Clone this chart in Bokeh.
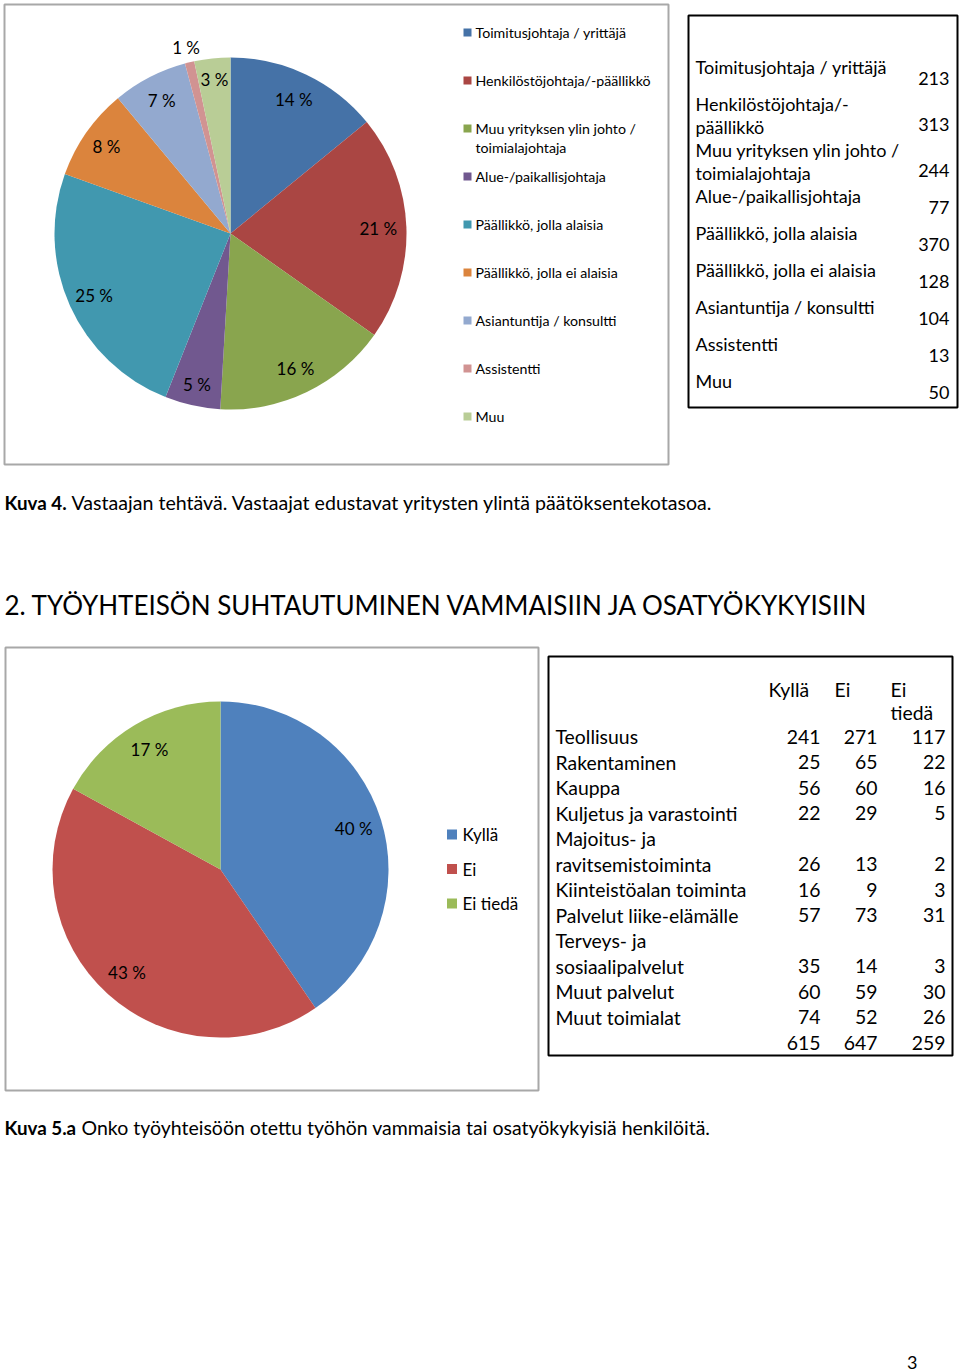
import math
from bokeh.plotting import figure
from bokeh.models import Range1d
from bokeh.embed import file_html
from bokeh.resources import INLINE
from bokeh.core.properties import value

# ---------------- data ----------------
# Figure 4: respondent role
roles_legend = ["Toimitusjohtaja / yrittäjä", "Henkilöstöjohtaja/-päällikkö",
                "Muu yrityksen ylin johto /\ntoimialajohtaja", "Alue-/paikallisjohtaja",
                "Päällikkö, jolla alaisia", "Päällikkö, jolla ei alaisia",
                "Asiantuntija / konsultti", "Assistentti", "Muu"]
roles_table = ["Toimitusjohtaja / yrittäjä", "Henkilöstöjohtaja/-\npäällikkö",
               "Muu yrityksen ylin johto /\ntoimialajohtaja", "Alue-/paikallisjohtaja",
               "Päällikkö, jolla alaisia", "Päällikkö, jolla ei alaisia",
               "Asiantuntija / konsultti", "Assistentti", "Muu"]
role_counts = [213, 313, 244, 77, 370, 128, 104, 13, 50]
role_pct_labels = ["14 %", "21 %", "16 %", "5 %", "25 %", "8 %", "7 %", "1 %", "3 %"]
role_colors = ["#4572A7", "#AA4643", "#89A54E", "#71588F", "#4198AF",
               "#DB843D", "#93A9CF", "#D19392", "#B9CD96"]

# Figure 5.a: hired disabled / partially able persons
answers = ["Kyllä", "Ei", "Ei tiedä"]
answer_totals = [615, 647, 259]
answer_pct_labels = ["40 %", "43 %", "17 %"]
answer_colors = ["#4F81BD", "#C0504D", "#9BBB59"]

industries = ["Teollisuus", "Rakentaminen", "Kauppa", "Kuljetus ja varastointi",
              "Majoitus- ja\nravitsemistoiminta", "Kiinteistöalan toiminta",
              "Palvelut liike-elämälle", "Terveys- ja\nsosiaalipalvelut",
              "Muut palvelut", "Muut toimialat"]
kylla = [241, 25, 56, 22, 26, 16, 57, 35, 60, 74]
ei = [271, 65, 60, 29, 13, 9, 73, 14, 59, 52]
ei_tieda = [117, 22, 16, 5, 2, 3, 31, 3, 30, 26]

caption4_bold = "Kuva 4."
caption4_text = "Vastaajan tehtävä. Vastaajat edustavat yritysten ylintä päätöksentekotasoa."
heading = "2. TYÖYHTEISÖN SUHTAUTUMINEN VAMMAISIIN JA OSATYÖKYKYISIIN"
caption5_bold = "Kuva 5.a"
caption5_text = "Onko työyhteisöön otettu työhön vammaisia tai osatyökykyisiä henkilöitä."
page_number = "3"

# ---------------- layout ----------------
W, H = 960, 1372
FONT = value("Lato")


def Y(py):
    return H - py


p = figure(width=W, height=H, x_range=Range1d(0, W), y_range=Range1d(0, H),
           output_backend="svg", toolbar_location=None, min_border=0,
           x_axis_location=None, y_axis_location=None)
p.grid.visible = False
p.outline_line_color = None
p.background_fill_color = "white"
p.border_fill_color = "white"


def txt(x, y, s, size, align="left", bold=False, color="#000000"):
    p.text(x=[x], y=[Y(y)], text=[s], text_font=FONT, text_font_size=f"{size}px",
           text_align=align, text_baseline="middle", text_color=color,
           text_font_style="bold" if bold else "normal")


def pie(cx, cy, r, vals, colors, labels, factors, size):
    total = float(sum(vals))
    cum = 0.0
    starts, ends, lx, ly = [], [], [], []
    for v, f in zip(vals, factors):
        a0 = math.pi / 2 - 2 * math.pi * cum / total
        cum += v
        a1 = math.pi / 2 - 2 * math.pi * cum / total
        starts.append(a0)
        ends.append(a1)
        m = (a0 + a1) / 2
        lx.append(cx + f * r * math.cos(m))
        ly.append(Y(cy) + f * r * math.sin(m))
    p.wedge(x=cx, y=Y(cy), radius=r, radius_units="screen", start_angle=starts,
            end_angle=ends, direction="clock", fill_color=colors, line_color=None)
    p.text(x=lx, y=ly, text=labels, text_font=FONT, text_font_size=f"{size}px",
           text_align="center", text_baseline="middle", text_color="#000000")


def box(l, t, r, b, color, w):
    p.quad(left=[l], right=[r], top=[Y(t)], bottom=[Y(b)], fill_color=None,
           line_color=color, line_width=w)


# ===== Figure 4 chart =====
box(4, 4, 668, 464, "#a8a8a8", 2)
pie(230, 233, 176, role_counts, role_colors, role_pct_labels,
    [0.84, 0.84, 0.85, 0.88, 0.85, 0.86, 0.85, 1.085, 0.88], 17)

leg_y = 32
for name, col in zip(roles_legend, role_colors):
    p.rect(x=[467], y=[Y(leg_y)], width=8, height=8, fill_color=col, line_color=None)
    for k, line in enumerate(name.split("\n")):
        txt(475, leg_y + k * 19, line, 14.2)
    leg_y += 48

# ===== Figure 4 table =====
box(688, 15, 957, 407, "#000000", 2)
row_y = 66
for name, cnt in zip(roles_table, role_counts):
    lines = name.split("\n")
    for k, line in enumerate(lines):
        txt(695, row_y + k * 23, line, 18)
    h = 37 if len(lines) == 1 else 46
    txt(949, row_y + h - 25, str(cnt), 18, align="right")
    row_y += h

# captions / heading
txt(4, 502, caption4_bold, 18.8, bold=True)
txt(71, 502, caption4_text, 19.6)
txt(4, 604, heading, 26)

# ===== Figure 5.a chart =====
box(5, 647, 538, 1090, "#a8a8a8", 2)
pie(220, 869, 168, answer_totals, answer_colors, answer_pct_labels,
    [0.83, 0.83, 0.83], 17)
for i, (name, col) in enumerate(zip(answers, answer_colors)):
    yy = 834 + i * 34.5
    p.rect(x=[451.5], y=[Y(yy)], width=10, height=10, fill_color=col, line_color=None)
    txt(462, yy, name, 17)

# ===== Figure 5.a table =====
box(548, 656, 952, 1055, "#000000", 2)
TS = 19.4
txt(768, 689, answers[0], TS)
txt(834, 689, answers[1], TS)
for k, part in enumerate(answers[2].split(" ")):
    txt(890, 689 + k * 23, part, TS)
col_x = [820, 877, 945]
line = 0
y0, dy = 736, 25.5
for name, a, b, c in zip(industries, kylla, ei, ei_tieda):
    parts = name.split("\n")
    for k, part in enumerate(parts):
        txt(555, y0 + (line + k) * dy, part, TS)
    line += len(parts) - 1
    yy = y0 + line * dy
    for xx, v in zip(col_x, (a, b, c)):
        txt(xx, yy, str(v), TS, align="right")
    line += 1
yy = y0 + line * dy
for xx, v in zip(col_x, answer_totals):
    txt(xx, yy, str(v), TS, align="right")

txt(4, 1127, caption5_bold, 18.8, bold=True)
txt(81, 1127, caption5_text, 19.5)
txt(917, 1362, page_number, 18, align="right")

open("out.html", "w").write(file_html(p, INLINE))
